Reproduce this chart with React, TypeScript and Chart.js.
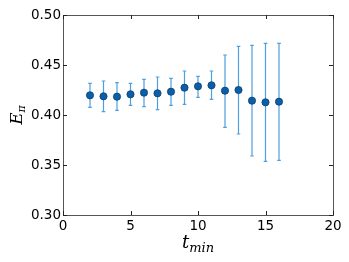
import React, { useEffect, useRef } from "react";
import { Chart, registerables } from "chart.js";

Chart.register(...registerables);

const tValues = [2, 3, 4, 5, 6, 7, 8, 9, 10, 11, 12, 13, 14, 15, 16];
const ePi = [0.4197, 0.4187, 0.4183, 0.4207, 0.4223, 0.4217, 0.4233, 0.4273, 0.4287, 0.4297, 0.4243, 0.425, 0.4143, 0.4127, 0.4133];
const errLow = [0.4077, 0.4033, 0.4047, 0.4097, 0.4083, 0.4053, 0.4097, 0.4107, 0.4177, 0.4157, 0.3877, 0.381, 0.359, 0.3537, 0.3547];
const errHigh = [0.4317, 0.434, 0.4323, 0.4317, 0.4357, 0.438, 0.4367, 0.444, 0.4387, 0.444, 0.46, 0.4687, 0.4697, 0.4717, 0.4717];
const xTicks = [0, 5, 10, 15, 20];
const yTicks = [0.3, 0.35, 0.4, 0.45, 0.5];

const FONT = "'DejaVu Sans', sans-serif";

const errorBarPlugin = {
  id: "errorBars",
  beforeDatasetsDraw(chart: any) {
    const ctx = chart.ctx;
    const xs = chart.scales.x;
    const ys = chart.scales.y;
    ctx.save();
    ctx.strokeStyle = "#4d9fde";
    ctx.lineWidth = 1.2;
    for (let i = 0; i < tValues.length; i++) {
      const px = xs.getPixelForValue(tValues[i]);
      const lo = ys.getPixelForValue(errLow[i]);
      const hi = ys.getPixelForValue(errHigh[i]);
      ctx.beginPath();
      ctx.moveTo(px, lo);
      ctx.lineTo(px, hi);
      ctx.moveTo(px - 1.8, lo);
      ctx.lineTo(px + 1.8, lo);
      ctx.moveTo(px - 1.8, hi);
      ctx.lineTo(px + 1.8, hi);
      ctx.stroke();
    }
    ctx.restore();
  },
};

const framePlugin = {
  id: "frame",
  afterDraw(chart: any) {
    const ctx = chart.ctx;
    const { left, right, top, bottom } = chart.chartArea;
    const xs = chart.scales.x;
    const ys = chart.scales.y;
    ctx.save();
    ctx.strokeStyle = "#555555";
    ctx.lineWidth = 1;
    ctx.strokeRect(Math.round(left) + 0.5, Math.round(top) + 0.5, Math.round(right - left), Math.round(bottom - top));
    ctx.strokeStyle = "#222222";
    const tl = 4;
    ctx.beginPath();
    for (const v of xTicks) {
      const px = Math.round(xs.getPixelForValue(v)) + 0.5;
      ctx.moveTo(px, bottom);
      ctx.lineTo(px, bottom - tl);
      ctx.moveTo(px, top);
      ctx.lineTo(px, top + tl);
    }
    for (const v of yTicks) {
      const py = Math.round(ys.getPixelForValue(v)) + 0.5;
      ctx.moveTo(left, py);
      ctx.lineTo(left + tl, py);
      ctx.moveTo(right, py);
      ctx.lineTo(right - tl, py);
    }
    ctx.stroke();

    // x title: t_min
    ctx.fillStyle = "#000";
    ctx.textBaseline = "alphabetic";
    const cx = (left + right) / 2;
    ctx.font = "italic 18px 'DejaVu Serif', serif";
    const tW = ctx.measureText("t").width;
    ctx.font = "italic 13px 'DejaVu Serif', serif";
    const sW = ctx.measureText("min").width;
    const startX = cx - (tW + sW) / 2;
    ctx.font = "italic 18px 'DejaVu Serif', serif";
    ctx.textAlign = "left";
    ctx.fillText("t", startX, 248);
    ctx.font = "italic 13px 'DejaVu Serif', serif";
    ctx.fillText("min", startX + tW, 251.5);

    // y title: E_pi rotated
    ctx.translate(22, 115);
    ctx.rotate(-Math.PI / 2);
    ctx.font = "italic 17px 'DejaVu Serif', serif";
    const eW = ctx.measureText("E").width;
    ctx.font = "italic 11px 'DejaVu Serif', serif";
    const pW = ctx.measureText("π").width;
    const sx = -(eW + pW) / 2;
    ctx.font = "italic 17px 'DejaVu Serif', serif";
    ctx.fillText("E", sx, 0);
    ctx.font = "italic 11px 'DejaVu Serif', serif";
    ctx.fillText("π", sx + eW, 3);
    ctx.restore();
  },
};

export default function App() {
  const ref = useRef<HTMLCanvasElement>(null);
  useEffect(() => {
    document.body.style.margin = "0";
    const chart = new Chart(ref.current as HTMLCanvasElement, {
      type: "scatter",
      data: {
        datasets: [
          {
            data: tValues.map((t, i) => ({ x: t, y: ePi[i] })),
            backgroundColor: "#0b5fa8",
            borderColor: "#0a3f70",
            borderWidth: 0.8,
            pointRadius: 3.6,
          },
        ],
      },
      options: {
        responsive: false,
        animation: false,
        layout: { padding: { top: 15, right: 16, left: 0, bottom: 0 } },
        plugins: { legend: { display: false }, tooltip: { enabled: false } },
        scales: {
          x: {
            type: "linear",
            min: 0,
            max: 20,
            afterBuildTicks: (s: any) => {
              s.ticks = xTicks.map((v) => ({ value: v }));
            },
            afterFit: (s: any) => {
              s.height = 47;
            },
            grid: { display: false, drawTicks: false },
            border: { display: false },
            ticks: {
              font: { family: FONT, size: 13.5 },
              color: "#000",
              padding: 3,
              maxRotation: 0,
              callback: (v: any) => String(v),
            },
          },
          y: {
            type: "linear",
            min: 0.3,
            max: 0.5,
            afterBuildTicks: (s: any) => {
              s.ticks = yTicks.map((v) => ({ value: v }));
            },
            afterFit: (s: any) => {
              s.width = 63;
            },
            grid: { display: false, drawTicks: false },
            border: { display: false },
            ticks: {
              font: { family: FONT, size: 13.5 },
              color: "#000",
              padding: 2,
              callback: (v: any) => Number(v).toFixed(2),
            },
          },
        },
      },
      plugins: [errorBarPlugin, framePlugin],
    });
    return () => chart.destroy();
  }, []);
  return (
    <div style={{ position: "absolute", left: 0, top: 0, width: 349, height: 262 }}>
      <canvas ref={ref} width={349} height={262} style={{ width: 349, height: 262 }} />
    </div>
  );
}
